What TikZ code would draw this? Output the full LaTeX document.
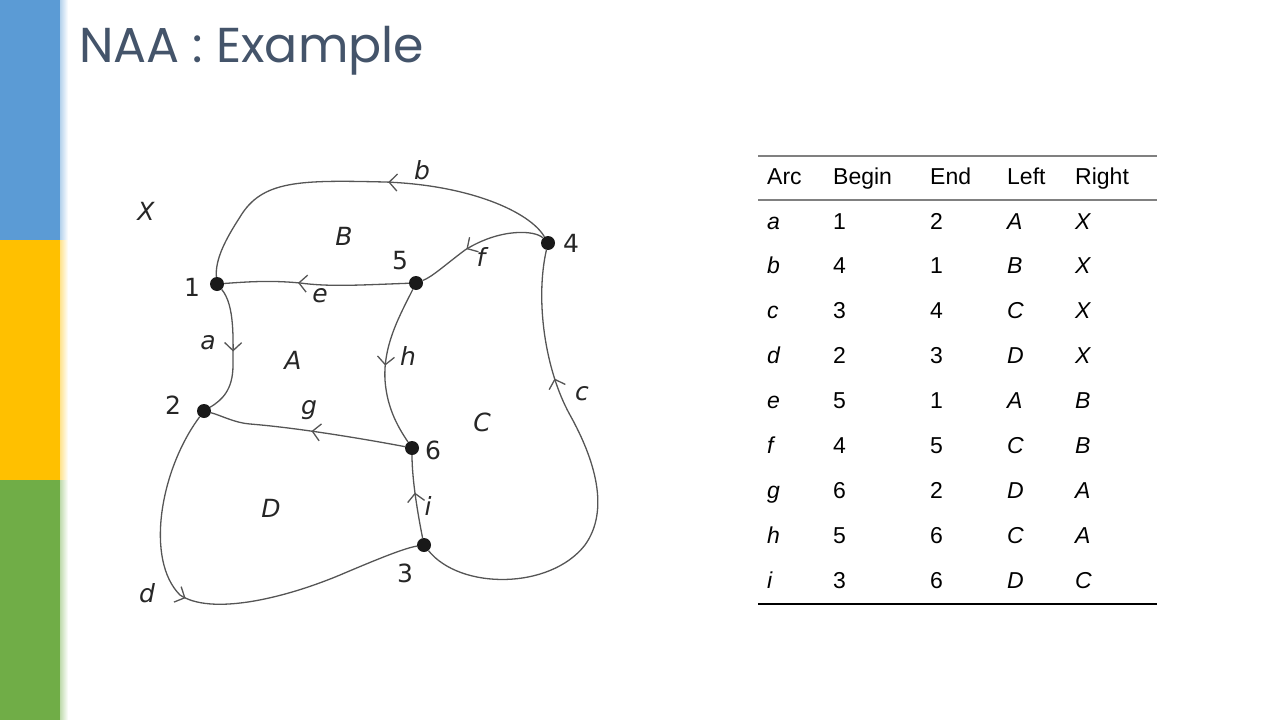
\documentclass[tikz,border=0pt]{standalone}
\usepackage{fontspec}
\usepackage{tikz}
\usetikzlibrary{positioning, arrows.meta, decorations.markings}

\newfontfamily\titulofont{Poppins}
\newfontfamily\grafofont{DejaVu Sans}
\newfontfamily\tablafont{Liberation Sans}

\definecolor{barazul}{HTML}{5B9BD5}
\definecolor{baraamarilla}{HTML}{FFC000}
\definecolor{baraverde}{HTML}{70AD47}
\definecolor{colortitulo}{HTML}{44546A}
\definecolor{colorarco}{HTML}{555555}

\tikzset{
    vertice/.style={circle, fill=black!90, inner sep=0pt, minimum size=14pt},
    arista/.style={draw, color=colorarco, line width=1.3pt},
    flecha/.style={postaction={decorate, decoration={markings,
        mark=at position #1 with {\arrow{Straight Barb[length=8pt, width=17pt]}}}}},
    etiqueta/.style={font=\grafofont\fontsize{25pt}{25pt}\selectfont, text=black!85, inner sep=0pt},
    celda/.style={font=\tablafont\fontsize{23pt}{23pt}\selectfont, anchor=base west, inner sep=0pt}
}

\begin{document}
\begin{tikzpicture}[x=1pt, y=-1pt]
    \useasboundingbox (0,0) rectangle (1280,720);
    % Barras laterales
    \fill[barazul] (0,0) rectangle (60,240);
    \fill[baraamarilla] (0,240) rectangle (60,480);
    \fill[baraverde] (0,480) rectangle (60,720);
    \shade[left color=barazul!45!white, right color=white] (60,0) rectangle (68,240);
    \shade[left color=baraamarilla!45!white, right color=white] (60,240) rectangle (68,480);
    \shade[left color=baraverde!45!white, right color=white] (60,480) rectangle (68,720);
    % Titulo
    \node[anchor=base west, inner sep=0pt, text=colortitulo,
          font=\titulofont\fontsize{49pt}{49pt}\selectfont] (titulo) at (79,62) {NAA : Example};

    % Vertices
    \node[vertice] (v1) at (217,284) {};
    \node[vertice] (v2) at (204,411) {};
    \node[vertice] (v3) at (424,545) {};
    \node[vertice] (v4) at (548,243) {};
    \node[vertice] (v5) at (416,283) {};
    \node[vertice] (v6) at (412,448) {};

    % Arcos
    \draw[arista, flecha=0.43] (v4) .. controls (530,212) and (470,185) .. (385,182)
        .. controls (300,180) and (262,180) .. (240,217)
        .. controls (225,240) and (215,260) .. (v1);
    \draw[arista, flecha=0.6] (v4) .. controls (535,230) and (500,228) .. (465,250)
        .. controls (445,265) and (432,277) .. (v5);
    \draw[arista, flecha=0.6] (v5) .. controls (360,285) and (330,287) .. (300,283)
        .. controls (270,280) and (245,282) .. (v1);
    \draw[arista, flecha=0.5] (v1) .. controls (235,305) and (233,340) .. (233,365)
        .. controls (233,390) and (222,400) .. (v2);
    \draw[arista, flecha=0.5] (v5) .. controls (400,315) and (383,345) .. (385,380)
        .. controls (387,410) and (400,430) .. (v6);
    \draw[arista, flecha=0.48] (v6) .. controls (370,440) and (300,428) .. (250,424)
        .. controls (235,423) and (220,415) .. (v2);
    \draw[arista, flecha=0.55] (v3) .. controls (418,515) and (412,480) .. (v6);
    \draw[arista, flecha=0.45] (v2) .. controls (160,470) and (145,560) .. (180,595)
        .. controls (210,615) and (280,600) .. (340,575)
        .. controls (380,558) and (405,548) .. (v3);
    \draw[arista, flecha=0.73] (v3) .. controls (460,590) and (550,590) .. (585,545)
        .. controls (610,510) and (595,460) .. (570,415)
        .. controls (545,370) and (535,300) .. (v4);

    % Etiquetas de vertices
    \node[etiqueta] (e1) at (192,287) {1};
    \node[etiqueta] (e2) at (173,405) {2};
    \node[etiqueta] (e3) at (405,573) {3};
    \node[etiqueta] (e4) at (571,243) {4};
    \node[etiqueta] (e5) at (400,261) {5};
    \node[etiqueta] (e6) at (433,450) {6};
    % Etiquetas de arcos
    \node[etiqueta] (ea) at (208,343) {\itshape a};
    \node[etiqueta] (eb) at (422,170) {\itshape b};
    \node[etiqueta] (ec) at (582,394) {\itshape c};
    \node[etiqueta] (ed) at (147,593) {\itshape d};
    \node[etiqueta] (ee) at (320,296) {\itshape e};
    \node[etiqueta] (ef) at (481,257) {\itshape f};
    \node[etiqueta] (eg) at (309,410) {\itshape g};
    \node[etiqueta] (eh) at (408,356) {\itshape h};
    \node[etiqueta] (ei) at (428,506) {\itshape i};
    % Caras
    \node[etiqueta] (cX) at (146,211) {\itshape X};
    \node[etiqueta] (cA) at (293,360) {\itshape A};
    \node[etiqueta] (cB) at (344,236) {\itshape B};
    \node[etiqueta] (cC) at (482,422) {\itshape C};
    \node[etiqueta] (cD) at (271,508) {\itshape D};

    % Tabla
    \draw[gray, line width=1.6pt] (758,156) -- (1157,156);
    \draw[gray, line width=1.6pt] (758,200) -- (1157,200);
    \draw[black, line width=1.3pt] (758,604) -- (1157,604);
    \node[celda] (hArc) at (767,184) {Arc};
    \node[celda] (hBegin) at (833,184) {Begin};
    \node[celda] (hEnd) at (930,184) {End};
    \node[celda] (hLeft) at (1007,184) {Left};
    \node[celda] (hRight) at (1075,184) {Right};
    \foreach \arco/\ini/\fin/\izq/\der [count=\i] in
        {a/1/2/A/X, b/4/1/B/X, c/3/4/C/X, d/2/3/D/X, e/5/1/A/B,
         f/4/5/C/B, g/6/2/D/A, h/5/6/C/A, i/3/6/D/C}{
        \pgfmathsetmacro\fila{229+44.9*(\i-1)}
        \node[celda] (arc\i) at (767,\fila) {\itshape\arco};
        \node[celda] (ini\i) at (833,\fila) {\ini};
        \node[celda] (fin\i) at (930,\fila) {\fin};
        \node[celda] (izq\i) at (1007,\fila) {\itshape\izq};
        \node[celda] (der\i) at (1075,\fila) {\itshape\der};
    }
\end{tikzpicture}
\end{document}
